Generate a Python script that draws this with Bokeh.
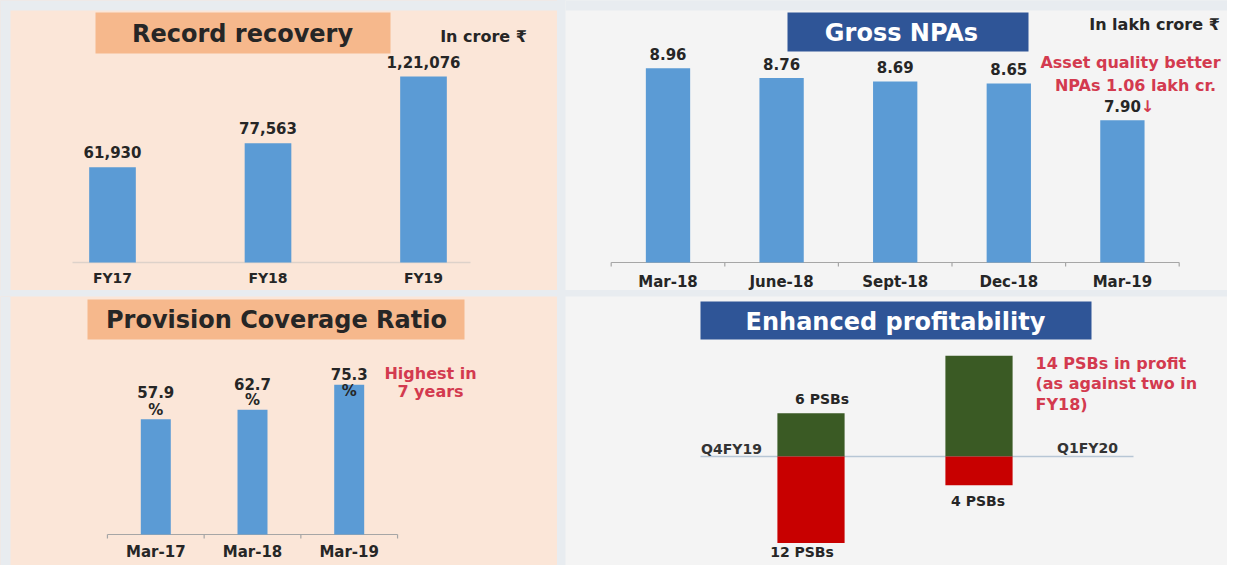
from bokeh.plotting import figure
from bokeh.models import Range1d, BoxAnnotation, Label
from bokeh.layouts import row, column
from bokeh.embed import file_html
from bokeh.resources import INLINE
from bokeh.core.properties import value

# ---------------- data ----------------
recovery_years = ["FY17", "FY18", "FY19"]
recovery_crore = [61930, 77563, 121076]

npa_periods = ["Mar-18", "June-18", "Sept-18", "Dec-18", "Mar-19"]
gross_npa_lakh_cr = [8.96, 8.76, 8.69, 8.65, 7.90]

pcr_periods = ["Mar-17", "Mar-18", "Mar-19"]
pcr_percent = [57.9, 62.7, 75.3]

profit_quarters = ["Q4FY19", "Q1FY20"]
psbs_in_profit = [6, 14]
psbs_in_loss = [12, 4]

# ---------------- styles ----------------
FONT = "DejaVu Sans"
PEACH = "#fbe6d8"
ORANGE = "#f6b88c"
NAVY = "#2f5597"
BLUE = "#5b9bd5"
LIGHT = "#f4f4f4"
GAP = "#e8ecf0"
RED_TXT = "#d33a4f"
DARK = "#262626"
GREEN = "#3a5a24"
RED_BAR = "#c80000"
AXIS = "#a6a6a6"


def indian(n):
    s = str(int(n))
    if len(s) <= 3:
        return s
    head, tail = s[:-3], s[-3:]
    parts = []
    while len(head) > 2:
        parts.insert(0, head[-2:])
        head = head[:-2]
    if head:
        parts.insert(0, head)
    return ",".join(parts + [tail])


class Panel:
    """A figure whose frame fills the whole canvas; helpers map pixel
    positions of decorations to data units."""

    def __init__(self, W, H, cx0, sx, by, yb, sy, bg):
        self.W, self.H, self.cx0, self.sx = W, H, cx0, sx
        self.by, self.yb, self.sy = by, yb, sy
        p = figure(width=W, height=H,
                   x_range=Range1d(-cx0 / sx, (W - cx0) / sx),
                   y_range=Range1d(yb - (H - by) / sy, yb + by / sy),
                   output_backend="svg", toolbar_location=None, tools="",
                   x_axis_location=None, y_axis_location=None,
                   min_border=0, background_fill_color=bg,
                   border_fill_color=bg)
        p.outline_line_color = None
        for g in p.grid:
            g.visible = False
        self.p = p

    def X(self, px):
        return (px - self.cx0) / self.sx

    def Y(self, py):
        return self.yb + (self.by - py) / self.sy

    def box(self, l, t, r, b, color):
        self.p.add_layout(BoxAnnotation(left=self.X(l), right=self.X(r),
                                        top=self.Y(t), bottom=self.Y(b),
                                        fill_color=color, fill_alpha=1.0,
                                        line_color=None))

    def label(self, px, py, text, size, color, align="center"):
        self.p.add_layout(Label(x=self.X(px), y=self.Y(py), text=text,
                                text_font=FONT, text_font_style="bold",
                                text_font_size=size, text_color=color,
                                text_align=align, text_baseline="middle"))


def texts(p, xs, ys, labels, size, color=DARK, **kw):
    p.text(x=xs, y=ys, text=labels, text_font=value(FONT),
           text_font_style="bold", text_font_size=size, text_color=color,
           text_align=kw.pop("text_align", "center"),
           text_baseline="middle", **kw)


# ---------------- panel 1: Record recovery ----------------
P1 = Panel(557, 290, 112, 155.5, 262, 0, 186 / 121076, PEACH)
p = P1.p
P1.box(0, 0, 557, 10, GAP)
P1.box(0, 0, 10, 290, GAP)
ix1 = list(range(len(recovery_years)))
p.segment(x0=[P1.X(72)], y0=[0], x1=[P1.X(470)], y1=[0],
          line_color="#ddd2ca", line_width=1.5)
p.vbar(x=ix1, top=recovery_crore, bottom=0, width=0.30,
       fill_color=BLUE, line_color=None)
texts(p, ix1, recovery_crore, [indian(v) for v in recovery_crore], "15px",
      y_offset=-15)
texts(p, ix1, [0] * len(ix1), recovery_years, "14px", y_offset=15)
P1.box(95, 12, 390, 53, ORANGE)
P1.label(242, 33, "Record recovery", "24px", DARK)
P1.label(483, 36, "In crore ₹", "16px", DARK)

# ---------------- panel 2: Gross NPAs ----------------
P2 = Panel(662, 290, 102.5, 113.6, 262, 5.0, 49.06, LIGHT)
p = P2.p
P2.box(0, 0, 662, 10, GAP)
ix2 = list(range(len(npa_periods)))
bounds2 = [i - 0.5 for i in range(len(npa_periods) + 1)]
p.segment(x0=[bounds2[0]], y0=[5.0], x1=[bounds2[-1]], y1=[5.0],
          line_color=AXIS, line_width=1.2)
p.segment(x0=bounds2, y0=[5.0] * len(bounds2), x1=bounds2,
          y1=[P2.Y(266)] * len(bounds2), line_color=AXIS, line_width=1.2)
p.vbar(x=ix2, top=gross_npa_lakh_cr, bottom=5.0, width=0.39,
       fill_color=BLUE, line_color=None)
texts(p, ix2, gross_npa_lakh_cr, [f"{v:.2f}" for v in gross_npa_lakh_cr],
      "15px", y_offset=-14)
texts(p, [ix2[-1]], [gross_npa_lakh_cr[-1]], ["↓"], "16px", color=RED_TXT,
      x_offset=25, y_offset=-14)
texts(p, ix2, [5.0] * len(ix2), npa_periods, "15px", y_offset=19)
P2.box(222, 12, 463, 51, NAVY)
P2.label(336, 32, "Gross NPAs", "24px", "white")
P2.label(589, 24, "In lakh crore ₹", "16px", DARK)
P2.label(565, 62, "Asset quality better", "16px", RED_TXT)
P2.label(570, 85, "NPAs 1.06 lakh cr.", "16px", RED_TXT)

# ---------------- panel 3: Provision Coverage Ratio ----------------
P3 = Panel(557, 269, 155.3, 96.7, 238, 0, 1.99, PEACH)
p = P3.p
P3.box(0, 0, 10, 269, GAP)
ix3 = list(range(len(pcr_periods)))
bounds3 = [i - 0.5 for i in range(len(pcr_periods) + 1)]
p.segment(x0=[bounds3[0]], y0=[0], x1=[bounds3[-1]], y1=[0],
          line_color=AXIS, line_width=1.2)
p.segment(x0=bounds3, y0=[0] * len(bounds3), x1=bounds3,
          y1=[P3.Y(242)] * len(bounds3), line_color=AXIS, line_width=1.2)
p.vbar(x=ix3, top=pcr_percent, bottom=0, width=0.31,
       fill_color=BLUE, line_color=None)
num_lift = [-27, -26, -11]
pct_lift = [-9, -10, 6]
texts(p, ix3, pcr_percent, [f"{v:.1f}" for v in pcr_percent], "15px",
      y_offset=num_lift)
texts(p, ix3, pcr_percent, ["%"] * len(ix3), "15px", y_offset=pct_lift)
texts(p, ix3, [0] * len(ix3), pcr_periods, "15px", y_offset=17)
P3.box(87, 3, 464, 43, ORANGE)
P3.label(276, 23, "Provision Coverage Ratio", "24px", DARK)
P3.label(430, 77, "Highest in", "16px", RED_TXT)
P3.label(430, 95, "7 years", "16px", RED_TXT)

# ---------------- panel 4: Enhanced profitability ----------------
P4 = Panel(662, 269, 245.5, 168, 160, 0, 7.2, LIGHT)
p = P4.p
ix4 = list(range(len(profit_quarters)))
p.segment(x0=[P4.X(135)], y0=[0], x1=[P4.X(568)], y1=[0],
          line_color="#b7c6d5", line_width=1.5)
p.vbar(x=ix4, top=psbs_in_profit, bottom=0, width=0.40,
       fill_color=GREEN, line_color=None)
p.vbar(x=ix4, top=0, bottom=[-v for v in psbs_in_loss], width=0.40,
       fill_color=RED_BAR, line_color=None)
texts(p, [ix4[0]], [psbs_in_profit[0]], [f"{psbs_in_profit[0]} PSBs"],
      "14px", x_offset=11, y_offset=-14)
texts(p, ix4, [-v for v in psbs_in_loss], [f"{v} PSBs" for v in psbs_in_loss],
      "14px", x_offset=[-9, -1], y_offset=[9, 16])
texts(p, ix4, [0] * len(ix4), profit_quarters, "14px", color="#333333",
      x_offset=[-79.5, 108.5], y_offset=[-8, -9])
P4.box(135, 5, 526, 43, NAVY)
P4.label(330, 25, "Enhanced profitability", "24px", "white")
P4.label(470, 67, f"{psbs_in_profit[1]} PSBs in profit", "16px", RED_TXT,
         align="left")
P4.label(470, 87, "(as against two in", "16px", RED_TXT, align="left")
P4.label(470, 108, "FY18)", "16px", RED_TXT, align="left")

layout = column(row(P1.p, P2.p, spacing=8), row(P3.p, P4.p, spacing=8),
                spacing=6, styles={"background-color": GAP})

open("out.html", "w").write(file_html(layout, INLINE, title="PSB performance"))
